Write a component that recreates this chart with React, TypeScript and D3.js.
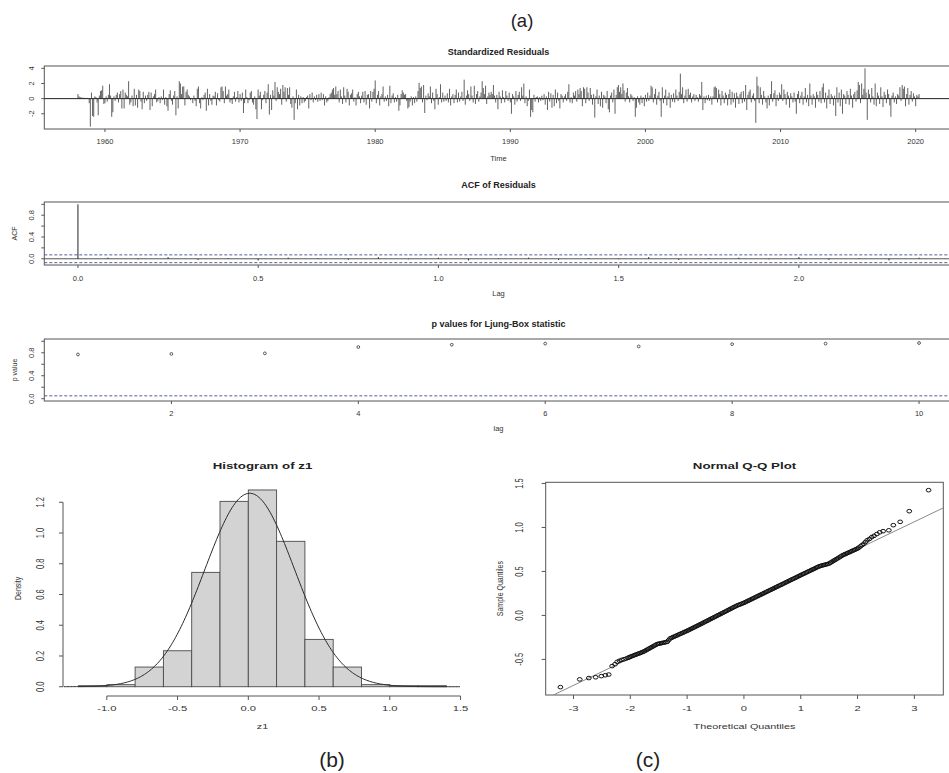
import * as d3 from "d3";
import React, { useEffect, useRef } from "react";

// ---- data ----
const startYear = 1958; // monthly residuals, Jan 1958 .. Apr 2020
const residuals = [
  0.6, 0.3, 0.2, 0.15, 0.1, 0.12, 0.1, 0.08, 0.1, 0.05, -0.6, -3.7,
  0.8, -2.3, -2.4, 0.3, 0.2, -0.5, -2.2, 0.4, 1.0, 1.1, 1.7, -0.7,
  -0.6, 0.3, -0.4, 0.5, 1.9, 0.4, -2.4, -1.8, 0.3, -0.3, 0.5, 0.8,
  -0.5, 0.6, 1.0, -1.3, 1.2, -1.3, 0.8, 0.5, 0.3, 2.3, -0.8, -0.5,
  0.4, -1.0, 1.3, -0.9, 0.5, -1.2, 1.2, 1.0, -0.4, -1.4, 0.9, -0.6,
  0.4, -0.3, 0.5, 0.9, -1.5, 0.8, -1.0, 0.3, 0.6, 1.2, -0.5, -0.3,
  0.2, -0.6, 0.3, -0.2, 1.2, -0.8, 0.2, -1.0, -1.6, 0.6, 1.1, -0.3,
  -0.8, 0.4, 1.0, -2.2, 0.3, -1.3, 2.3, 2.0, 0.6, 1.6, 1.6, -0.9,
  0.9, 1.2, 0.5, 0.3, -0.2, 0.1, -0.6, 0.4, -0.3, -1.0, 1.3, 1.6,
  -0.6, -1.3, 0.2, -0.2, 0.5, 0.8, -1.6, 1.3, -0.9, 0.6, -0.3, -0.8,
  0.4, 0.3, 0.9, -0.9, 0.7, -0.2, -0.4, 1.5, 1.6, 1.0, -0.6, 1.6,
  0.4, 0.6, 1.2, -0.5, -0.2, -0.7, 0.3, 0.9, -0.4, 0.2, 1.0, -0.5,
  0.6, -0.3, 0.8, -1.9, -0.6, 1.2, 0.2, -0.6, -0.2, 0.8, 1.0, -0.5,
  -0.8, 0.3, -1.4, -2.7, 1.2, 0.4, 0.9, -1.4, -0.2, 0.5, 1.0, -0.6,
  0.8, 1.9, -2.1, 0.5, -1.5, 1.1, 0.4, 2.2, -0.3, 1.5, 0.9, 0.6,
  1.3, -0.8, 1.8, 0.9, 1.5, -0.4, 1.4, 0.5, 1.5, -0.7, -1.2, 0.3,
  -2.8, -0.6, 1.2, -1.4, 0.5, -0.9, 0.3, -0.6, 0.2, -0.5, -0.3, 0.2,
  0.4, -1.3, 0.6, -0.2, 0.8, -0.5, 0.3, -0.2, 0.5, -0.4, 0.6, -0.3,
  0.8, -0.2, 0.6, -0.9, 0.3, -0.5, -0.3, 0.2, 0.6, 0.8, 1.2, 1.4,
  0.5, 1.6, 0.6, 1.0, -0.5, 1.2, 0.3, -0.7, 1.5, 0.4, -0.5, 1.3,
  0.9, -0.9, 0.5, 0.7, 1.2, -0.4, 0.2, -0.9, 0.6, 0.9, 0.3, -0.6,
  0.4, 0.9, -0.5, 1.0, -0.8, 0.5, 0.6, -1.3, 1.0, -0.4, 0.9, 1.3,
  2.4, -0.6, 0.5, 1.0, -0.9, 0.3, 0.6, 1.6, -0.4, 0.3, -0.3, 0.5,
  -1.0, 1.7, -0.6, 0.4, 0.7, -0.5, 0.2, -0.4, 0.5, -1.6, -0.9, 0.6,
  1.1, 0.8, 0.5, 0.6, -0.3, -1.3, -1.1, -0.4, 0.3, -0.9, 0.2, -0.6,
  0.3, -0.4, 1.0, 2.1, 1.4, 1.6, -0.5, 1.8, -1.9, 0.4, -0.2, 0.7,
  0.3, 1.6, -0.6, 0.8, -0.3, -1.4, 1.3, 0.6, -0.8, 0.2, 1.9, -0.5,
  0.8, -0.4, 0.4, -0.3, 0.7, -0.5, 1.3, -0.9, 0.3, 0.6, -0.6, 0.5,
  1.2, -0.5, 0.8, -0.4, 0.3, 0.9, -0.3, 2.5, -0.8, 0.4, 1.1, 0.6,
  -0.3, 1.6, 0.4, -0.5, 1.7, -0.7, 0.6, 1.0, -0.4, 0.3, 0.8, 2.3,
  1.4, 0.6, 1.7, -0.7, 0.3, 0.8, 0.5, 0.9, 0.6, 1.8, 0.4, -0.5,
  0.5, -1.4, 0.9, 0.3, -0.6, 1.1, 0.2, -0.5, 1.0, 0.4, -0.3, 0.8,
  -0.5, -2.0, 0.6, 0.3, -0.8, 1.0, -0.4, 0.5, 0.9, -0.3, 1.5, 0.4,
  2.0, -0.6, 0.3, -1.0, -0.3, 1.2, -2.4, -1.5, -1.8, 0.5, -0.4, 0.2,
  0.3, -0.5, 0.2, -0.3, 0.4, -0.2, 0.6, -0.8, 0.3, -1.5, 0.9, -0.4,
  0.7, -1.2, 0.5, -1.0, 1.2, -0.6, 0.8, -0.3, -1.3, 0.6, 0.4, -0.5,
  0.3, 0.6, -0.3, 0.9, 1.9, -0.5, 0.2, -0.6, 0.8, 0.4, 1.0, -0.4,
  1.2, 0.6, 1.4, 1.0, -1.0, 1.5, 1.3, -0.6, 1.5, 0.8, -0.3, 1.4,
  0.5, -0.8, 0.6, -2.5, 0.3, 1.2, -0.7, 0.4, -1.0, 0.9, -1.2, 0.5,
  0.3, -0.6, 1.0, -1.4, -1.8, 0.4, 0.8, -0.5, 1.2, -2.0, 0.5, 1.5,
  1.8, 0.9, 1.5, 0.6, 2.0, 1.1, -0.4, 0.8, 1.4, 0.3, -0.5, 0.6,
  0.4, -0.3, 0.2, -2.4, -1.2, 0.3, -0.5, -0.8, 0.4, -0.6, 0.2, -1.0,
  0.5, -0.4, 0.8, -0.3, 0.4, 1.7, 1.5, -0.5, 0.6, 1.3, -0.8, 0.4,
  0.9, -0.3, -2.4, 1.5, -0.6, 0.4, 1.2, -0.9, 0.3, 0.8, -1.2, 0.5,
  -0.4, 0.7, -0.5, 1.2, 0.4, -0.3, 0.9, 3.3, 0.6, 1.5, -0.6, 0.4,
  1.2, -0.4, 1.3, 0.5, 0.8, -0.5, 0.3, 0.6, -0.3, 0.5, 0.2, -0.4,
  0.6, 0.4, 2.2, -1.5, 0.3, -0.6, 0.4, -0.2, 0.5, -0.3, 0.3, -0.8,
  0.3, 1.5, 1.6, 1.4, -0.5, 1.2, 0.6, -0.9, 1.0, 0.4, -0.6, 0.8,
  0.5, -0.9, 0.6, 1.2, -0.8, 0.9, -0.5, 0.7, -1.2, 0.8, 0.3, -0.7,
  0.6, 0.9, -0.6, 1.0, -0.4, 1.8, -1.5, 0.5, 0.9, 1.2, -0.5, 0.4,
  0.7, -0.3, -3.2, 2.9, 1.7, -0.6, 1.5, 0.5, -0.8, 1.0, 0.3, -0.5,
  -1.3, 0.4, -0.9, 0.6, 2.3, -0.4, 0.7, 1.1, -1.0, 0.5, -0.3, 0.8,
  0.5, 1.9, -0.3, 1.2, 0.6, -0.8, 0.9, 0.4, -1.2, 0.7, 0.3, -0.5,
  0.8, -0.4, -2.0, 0.6, 1.0, -0.6, 0.4, 0.9, -0.8, 0.3, 1.4, -0.5,
  0.5, -1.0, 2.0, 0.4, -0.8, 0.6, 0.3, -1.2, 0.9, 0.5, -0.4, 1.0,
  -0.6, 1.5, 2.0, -0.5, 0.8, -1.3, 0.4, 1.2, -0.7, 0.6, 0.3, -0.9,
  0.4, -2.3, 1.5, -0.5, 0.8, -1.0, 1.2, -2.0, 0.6, 0.4, -0.7, 1.0,
  0.5, -0.8, 1.3, 0.4, -1.2, 0.6, 0.9, -0.4, 1.1, 2.2, 1.8, -0.6,
  2.0, 0.5, 1.3, 4.0, 0.8, -2.8, 1.2, 0.6, -0.5, 1.4, 0.3, -0.8,
  2.0, -1.0, 0.8, 0.4, -0.7, 1.5, 0.3, -1.1, 0.9, 0.5, -0.6, 1.2,
  0.6, -0.9, -2.4, 0.4, 0.8, -0.5, 0.3, -0.7, 0.6, 0.4, 1.5, -0.3,
  1.8, 1.3, 1.6, -1.0, 0.6, 1.4, -0.8, 0.5, 1.0, -0.4, 0.7, 0.3,
  -1.0, 0.5, 0.3, 0.6,
];
const residualTicks = [1960, 1970, 1980, 1990, 2000, 2010, 2020];

// ACF by lag in months (lag 0 .. 28)
const acfValues = [
  1, 0.02, -0.01, 0.03, -0.02, 0.01, -0.03, 0.02, 0.01, -0.02, 0.03, -0.01,
  0.02, -0.03, 0.01, 0.02, -0.02, 0.01, -0.01, 0.03, -0.02, 0.01, 0.02, -0.01,
  0.03, -0.02, 0.01, -0.03, 0.02,
];
const acfTicks = [0, 0.5, 1, 1.5, 2];

const lbLags = [1, 2, 3, 4, 5, 6, 7, 8, 9, 10];
const lbPValues = [0.77, 0.78, 0.79, 0.9, 0.94, 0.96, 0.91, 0.95, 0.96, 0.97];
const lbTicks = [2, 4, 6, 8, 10];
const unitTicks = [0, 0.2, 0.4, 0.6, 0.8, 1.0];
const unitLabels = [0, 0.4, 0.8];

const histBreaks = [-1.2, -1.0, -0.8, -0.6, -0.4, -0.2, 0, 0.2, 0.4, 0.6, 0.8, 1.0, 1.2, 1.4];
const histDensity = [0.0067, 0.0134, 0.128, 0.234, 0.744, 1.206, 1.28, 0.946, 0.308, 0.128, 0.0134, 0.0067, 0.0067];
const histXTicks = [-1.0, -0.5, 0, 0.5, 1.0, 1.5];
const histYTicks = [0, 0.2, 0.4, 0.6, 0.8, 1.0, 1.2];
const normMean = 0.01;
const normSd = 0.317;

// Q-Q points as [theoretical, sample]
const qqLowTail = [
  [-3.23, -0.815], [-2.89, -0.727], [-2.73, -0.712], [-2.61, -0.703], [-2.51, -0.69],
  [-2.44, -0.68], [-2.38, -0.672], [-2.32, -0.576], [-2.27, -0.555], [-2.23, -0.527],
  [-2.19, -0.515], [-2.15, -0.505], [-2.11, -0.498], [-2.07, -0.49], [-2.04, -0.482], [-2.02, -0.476],
];
const qqCentre = [
  [-2.0, -0.47], [-1.975, -0.464], [-1.95, -0.458], [-1.925, -0.451], [-1.9, -0.445], [-1.875, -0.439],
  [-1.85, -0.433], [-1.825, -0.427], [-1.8, -0.42], [-1.775, -0.414], [-1.75, -0.406], [-1.725, -0.397],
  [-1.7, -0.388], [-1.675, -0.379], [-1.65, -0.37], [-1.625, -0.361], [-1.6, -0.352], [-1.575, -0.343],
  [-1.55, -0.334], [-1.525, -0.325], [-1.5, -0.322], [-1.475, -0.318], [-1.45, -0.315], [-1.425, -0.311],
  [-1.4, -0.308], [-1.375, -0.304], [-1.35, -0.3], [-1.325, -0.281], [-1.3, -0.262], [-1.275, -0.255],
  [-1.25, -0.247], [-1.225, -0.24], [-1.2, -0.233], [-1.175, -0.226], [-1.15, -0.218], [-1.125, -0.211],
  [-1.1, -0.204], [-1.075, -0.197], [-1.05, -0.189], [-1.025, -0.182], [-1.0, -0.175], [-0.975, -0.167],
  [-0.95, -0.159], [-0.925, -0.151], [-0.9, -0.143], [-0.875, -0.135], [-0.85, -0.127], [-0.825, -0.119],
  [-0.8, -0.111], [-0.775, -0.103], [-0.75, -0.095], [-0.725, -0.087], [-0.7, -0.078], [-0.675, -0.07],
  [-0.65, -0.062], [-0.625, -0.054], [-0.6, -0.045], [-0.575, -0.037], [-0.55, -0.029], [-0.525, -0.021],
  [-0.5, -0.013], [-0.475, -0.004], [-0.45, 0.004], [-0.425, 0.012], [-0.4, 0.02], [-0.375, 0.028],
  [-0.35, 0.037], [-0.325, 0.045], [-0.3, 0.053], [-0.275, 0.062], [-0.25, 0.07], [-0.225, 0.078],
  [-0.2, 0.087], [-0.175, 0.095], [-0.15, 0.103], [-0.125, 0.111], [-0.1, 0.118], [-0.075, 0.124],
  [-0.05, 0.13], [-0.025, 0.137], [0, 0.143], [0.025, 0.151], [0.05, 0.159], [0.075, 0.167],
  [0.1, 0.174], [0.125, 0.182], [0.15, 0.19], [0.175, 0.198], [0.2, 0.206], [0.225, 0.214],
  [0.25, 0.222], [0.275, 0.23], [0.3, 0.237], [0.325, 0.245], [0.35, 0.253], [0.375, 0.261],
  [0.4, 0.269], [0.425, 0.277], [0.45, 0.285], [0.475, 0.292], [0.5, 0.3], [0.525, 0.308],
  [0.55, 0.316], [0.575, 0.324], [0.6, 0.332], [0.625, 0.34], [0.65, 0.347], [0.675, 0.355],
  [0.7, 0.363], [0.725, 0.371], [0.75, 0.379], [0.775, 0.387], [0.8, 0.395], [0.825, 0.403],
  [0.85, 0.411], [0.875, 0.418], [0.9, 0.426], [0.925, 0.434], [0.95, 0.442], [0.975, 0.45],
  [1.0, 0.458], [1.025, 0.466], [1.05, 0.473], [1.075, 0.481], [1.1, 0.489], [1.125, 0.497],
  [1.15, 0.504], [1.175, 0.512], [1.2, 0.52], [1.225, 0.527], [1.25, 0.535], [1.275, 0.543],
  [1.3, 0.551], [1.325, 0.558], [1.35, 0.563], [1.375, 0.568], [1.4, 0.572], [1.425, 0.576],
  [1.45, 0.581], [1.475, 0.585], [1.5, 0.59], [1.525, 0.6], [1.55, 0.61], [1.575, 0.62],
  [1.6, 0.63], [1.625, 0.639], [1.65, 0.649], [1.675, 0.659], [1.7, 0.669], [1.725, 0.679],
  [1.75, 0.688], [1.775, 0.695], [1.8, 0.702], [1.825, 0.71], [1.85, 0.717], [1.875, 0.724],
  [1.9, 0.732], [1.925, 0.739], [1.95, 0.746], [1.975, 0.754], [2.0, 0.761],
];
const qqHighTail = [
  [2.02, 0.77], [2.05, 0.785], [2.08, 0.8], [2.11, 0.815], [2.14, 0.835], [2.17, 0.855],
  [2.21, 0.87], [2.25, 0.89], [2.29, 0.905], [2.34, 0.925], [2.39, 0.945], [2.45, 0.958],
  [2.55, 0.968], [2.63, 1.026], [2.75, 1.064], [2.91, 1.185], [3.25, 1.424],
];
const qqXTicks = [-3, -2, -1, 0, 1, 2, 3];
const qqYTicks = [-0.5, 0, 0.5, 1.0, 1.5];
const qqIntercept = 0.135;
const qqSlope = 0.31;

const FONT = "'Liberation Sans', Arial, Helvetica, sans-serif";
const INK = "#222";
const FRAME = "#555";
const BLUE = "#56609a";

// R style axis range: 4% either side
const pad = (e: number[]) => {
  const d = e[1] - e[0];
  return [e[0] - 0.04 * d, e[1] + 0.04 * d];
};

function label(g: any, x: number, y: number, str: string, size: number, o: any = {}) {
  const sx = o.sx ?? 1;
  g.append("text")
    .attr("transform", `translate(${x},${y}) scale(${sx},1)${o.rotate ? " rotate(-90)" : ""}`)
    .attr("dy", o.rotate ? "0.35em" : null)
    .attr("text-anchor", o.anchor ?? "middle")
    .attr("font-size", size)
    .attr("font-weight", o.bold ? "bold" : "normal")
    .attr("fill", o.fill ?? INK)
    .text(str);
}

const XL = 44.3;
const XR = 952.7;

function topPanel(svg: any, c: any) {
  const x = d3.scaleLinear().domain(c.xDomain).range([XL, XR]);
  const y = d3.scaleLinear().domain(c.yDomain).range([c.y1, c.y0]);
  const g = svg.append("g");
  g.append("rect")
    .attr("x", XL).attr("y", c.y0).attr("width", XR - XL).attr("height", c.y1 - c.y0)
    .attr("fill", "none").attr("stroke", FRAME).attr("stroke-width", 1);
  c.xTicks.forEach((t: number) => {
    g.append("line").attr("x1", x(t)).attr("x2", x(t)).attr("y1", c.y1).attr("y2", c.y1 + 3)
      .attr("stroke", FRAME);
    label(g, x(t), c.xLabelY, c.xFmt(t), 7.5, { fill: "#333" });
  });
  c.yTicks.forEach((t: number) => {
    g.append("line").attr("x1", XL - 3).attr("x2", XL).attr("y1", y(t)).attr("y2", y(t))
      .attr("stroke", FRAME);
  });
  c.yLabels.forEach((t: number) => {
    label(g, 31.5, y(t), c.yFmt(t), 7.5, { rotate: true, fill: "#333" });
  });
  label(g, (XL + XR) / 2, c.titleY, c.title, 9, { bold: true });
  label(g, (XL + XR) / 2, c.xTitleY, c.xTitle, 7.5, { fill: "#333" });
  if (c.yTitle) label(g, 14.5, (c.y0 + c.y1) / 2, c.yTitle, 7, { rotate: true, fill: "#333" });
  return { x, y, g };
}

function drawChart(el: SVGSVGElement) {
  const svg = d3.select(el);
  svg.selectAll("*").remove();
  svg.attr("font-family", FONT);

  label(svg, 522, 26.5, "(a)", 18.5);
  label(svg, 332, 767, "(b)", 21);
  label(svg, 648, 767, "(c)", 21);

  // --- standardized residuals ---
  const times = residuals.map((_, i) => startYear + i / 12);
  const p1 = topPanel(svg, {
    y0: 66, y1: 129,
    xDomain: pad(d3.extent(times) as number[]),
    yDomain: pad(d3.extent(residuals) as number[]),
    xTicks: residualTicks, xFmt: (t: number) => String(t), xLabelY: 144,
    yTicks: [-2, 0, 2, 4], yLabels: [-2, 0, 2, 4], yFmt: (t: number) => String(t),
    title: "Standardized Residuals", titleY: 55, xTitle: "Time", xTitleY: 160.5,
  });
  p1.g.selectAll(".res")
    .data(residuals)
    .enter()
    .append("line")
    .attr("x1", (_: number, i: number) => p1.x(times[i]))
    .attr("x2", (_: number, i: number) => p1.x(times[i]))
    .attr("y1", p1.y(0))
    .attr("y2", (d: number) => p1.y(d))
    .attr("stroke", "#3a3a3a")
    .attr("stroke-width", 0.8);
  p1.g.append("line").attr("x1", XL).attr("x2", XR).attr("y1", p1.y(0)).attr("y2", p1.y(0))
    .attr("stroke", INK).attr("stroke-width", 1);

  // --- ACF of residuals ---
  const lags = acfValues.map((_, i) => i / 12);
  const ci = 1.96 / Math.sqrt(residuals.length);
  const p2 = topPanel(svg, {
    y0: 202, y1: 265,
    xDomain: pad(d3.extent(lags) as number[]),
    yDomain: pad([Math.min(-ci, d3.min(acfValues) as number), 1]),
    xTicks: acfTicks, xFmt: (t: number) => t.toFixed(1), xLabelY: 280.5,
    yTicks: unitTicks, yLabels: unitLabels, yFmt: (t: number) => t.toFixed(1),
    title: "ACF of Residuals", titleY: 187.5, xTitle: "Lag", xTitleY: 296, yTitle: "ACF",
  });
  p2.g.append("line").attr("x1", XL).attr("x2", XR).attr("y1", p2.y(0)).attr("y2", p2.y(0))
    .attr("stroke", FRAME).attr("stroke-width", 1);
  [ci, -ci].forEach((v) => {
    p2.g.append("line").attr("x1", XL).attr("x2", XR).attr("y1", p2.y(v)).attr("y2", p2.y(v))
      .attr("stroke", BLUE).attr("stroke-width", 1).attr("stroke-dasharray", "3,2");
  });
  p2.g.selectAll(".acf")
    .data(acfValues)
    .enter()
    .append("line")
    .attr("x1", (_: number, i: number) => p2.x(lags[i]))
    .attr("x2", (_: number, i: number) => p2.x(lags[i]))
    .attr("y1", p2.y(0))
    .attr("y2", (d: number) => p2.y(d))
    .attr("stroke", INK)
    .attr("stroke-width", 1);

  // --- Ljung-Box p values ---
  const p3 = topPanel(svg, {
    y0: 339, y1: 401,
    xDomain: pad(d3.extent(lbLags) as number[]),
    yDomain: pad([0, 1]),
    xTicks: lbTicks, xFmt: (t: number) => String(t), xLabelY: 416,
    yTicks: unitTicks, yLabels: unitLabels, yFmt: (t: number) => t.toFixed(1),
    title: "p values for Ljung-Box statistic", titleY: 326.5, xTitle: "lag", xTitleY: 430.5,
    yTitle: "p value",
  });
  p3.g.append("line").attr("x1", XL).attr("x2", XR).attr("y1", p3.y(0.05)).attr("y2", p3.y(0.05))
    .attr("stroke", BLUE).attr("stroke-width", 1).attr("stroke-dasharray", "3,2");
  p3.g.selectAll(".lb")
    .data(lbPValues)
    .enter()
    .append("circle")
    .attr("cx", (_: number, i: number) => p3.x(lbLags[i]))
    .attr("cy", (d: number) => p3.y(d))
    .attr("r", 1.4)
    .attr("fill", "none")
    .attr("stroke", "#333")
    .attr("stroke-width", 0.8);

  // --- histogram of z1 ---
  const SX = 1.4; // bottom figures are stretched sideways
  const hx = d3.scaleLinear().domain(pad([histBreaks[0], histBreaks[histBreaks.length - 1]])).range([63.8, 461.1]);
  const hy = d3.scaleLinear().domain(pad([0, d3.max(histDensity) as number])).range([694.6, 482.1]);
  const hg = svg.append("g");
  hg.selectAll(".bin")
    .data(histDensity)
    .enter()
    .append("rect")
    .attr("x", (_: number, i: number) => hx(histBreaks[i]))
    .attr("width", (_: number, i: number) => hx(histBreaks[i + 1]) - hx(histBreaks[i]))
    .attr("y", (d: number) => hy(d))
    .attr("height", (d: number) => hy(0) - hy(d))
    .attr("fill", "#d3d3d3")
    .attr("stroke", "#4a4a4a")
    .attr("stroke-width", 0.9);
  const curveX = d3.range(hx.domain()[0], hx.domain()[1] + 1e-9, 0.01);
  const dnorm = (v: number) =>
    Math.exp(-0.5 * ((v - normMean) / normSd) ** 2) / (normSd * Math.sqrt(2 * Math.PI));
  hg.append("path")
    .attr("d", d3.line<number>().x((v) => hx(v)).y((v) => hy(dnorm(v)))(curveX))
    .attr("fill", "none")
    .attr("stroke", "#2a2a2a")
    .attr("stroke-width", 1);
  const axY = 696;
  hg.append("line").attr("x1", hx(histXTicks[0])).attr("x2", hx(histXTicks[histXTicks.length - 1]))
    .attr("y1", axY).attr("y2", axY).attr("stroke", FRAME);
  histXTicks.forEach((t) => {
    hg.append("line").attr("x1", hx(t)).attr("x2", hx(t)).attr("y1", axY).attr("y2", axY + 4).attr("stroke", FRAME);
    label(hg, hx(t), 710.7, t.toFixed(1), 8, { sx: SX, fill: "#333" });
  });
  hg.append("line").attr("x1", 63).attr("x2", 63)
    .attr("y1", hy(histYTicks[0])).attr("y2", hy(histYTicks[histYTicks.length - 1])).attr("stroke", FRAME);
  histYTicks.forEach((t) => {
    hg.append("line").attr("x1", 59).attr("x2", 63).attr("y1", hy(t)).attr("y2", hy(t)).attr("stroke", FRAME);
    label(hg, 40.5, hy(t), t.toFixed(1), 7.5, { sx: SX, rotate: true, fill: "#333" });
  });
  label(hg, 262.5, 468.5, "Histogram of z1", 9.5, { sx: SX, bold: true });
  label(hg, 262.5, 728.7, "z1", 7.7, { sx: SX, fill: "#333" });
  label(hg, 17.5, 588.4, "Density", 7, { sx: SX, rotate: true, fill: "#333" });

  // --- normal Q-Q plot ---
  const qq = [...qqLowTail, ...qqCentre, ...qqHighTail];
  const qx = d3.scaleLinear().domain(pad(d3.extent(qq, (d) => d[0]) as number[])).range([545.7, 943.3]);
  const qy = d3.scaleLinear().domain(pad(d3.extent(qq, (d) => d[1]) as number[])).range([695, 482.3]);
  const qg = svg.append("g");
  svg.append("defs").append("clipPath").attr("id", "qqclip").append("rect")
    .attr("x", 545.7).attr("y", 482.3).attr("width", 943.3 - 545.7).attr("height", 695 - 482.3);
  qg.append("rect").attr("x", 545.7).attr("y", 482.3).attr("width", 943.3 - 545.7).attr("height", 695 - 482.3)
    .attr("fill", "none").attr("stroke", FRAME);
  const [qa, qb] = qx.domain();
  qg.append("line")
    .attr("clip-path", "url(#qqclip)")
    .attr("x1", qx(qa)).attr("y1", qy(qqIntercept + qqSlope * qa))
    .attr("x2", qx(qb)).attr("y2", qy(qqIntercept + qqSlope * qb))
    .attr("stroke", "#8a8a8a").attr("stroke-width", 1);
  qg.selectAll(".qq")
    .data(qq)
    .enter()
    .append("ellipse")
    .attr("cx", (d: number[]) => qx(d[0]))
    .attr("cy", (d: number[]) => qy(d[1]))
    .attr("rx", 2.4)
    .attr("ry", 1.8)
    .attr("fill", "none")
    .attr("stroke", "#111")
    .attr("stroke-width", 1);
  qqXTicks.forEach((t) => {
    qg.append("line").attr("x1", qx(t)).attr("x2", qx(t)).attr("y1", 695).attr("y2", 699).attr("stroke", FRAME);
    label(qg, qx(t), 710.7, String(t), 8, { sx: SX, fill: "#333" });
  });
  qqYTicks.forEach((t) => {
    qg.append("line").attr("x1", 541.7).attr("x2", 545.7).attr("y1", qy(t)).attr("y2", qy(t)).attr("stroke", FRAME);
    label(qg, 519.7, qy(t), t.toFixed(1), 7.5, { sx: SX, rotate: true, fill: "#333" });
  });
  label(qg, 744.5, 468.5, "Normal Q-Q Plot", 9.5, { sx: SX, bold: true });
  label(qg, 744.5, 728.7, "Theoretical Quantiles", 7.7, { sx: SX, fill: "#333" });
  label(qg, 499.3, 588.6, "Sample Quantiles", 7, { sx: SX, rotate: true, fill: "#333" });
}

export default function App() {
  const ref = useRef<SVGSVGElement>(null);
  useEffect(() => {
    if (ref.current) drawChart(ref.current);
  }, []);
  return (
    <svg
      ref={ref}
      width={949}
      height={773}
      style={{ position: "absolute", left: 0, top: 0, background: "#fff", display: "block" }}
    />
  );
}
